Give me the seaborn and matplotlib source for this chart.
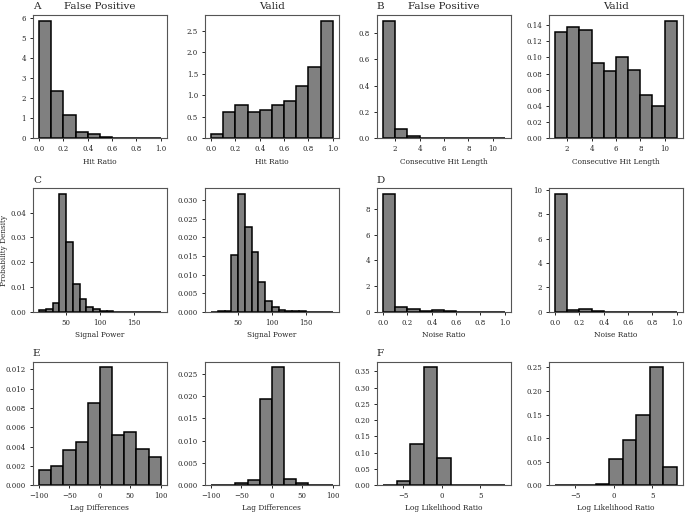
import numpy as np
import pandas as pd
import matplotlib
matplotlib.use("Agg")
import matplotlib.pyplot as plt
import seaborn as sns

# bin edges per metric
hit_edges = np.linspace(0, 1, 11)
len_edges = np.arange(1, 12)
power_edges = np.arange(10, 200, 10)
noise_edges = np.linspace(0, 1, 11)
lag_edges = np.arange(-100, 101, 20)
llr_edges = np.linspace(-7.6, 8.2, 10)

# bar heights (probability density)
hit_fp = [5.85, 2.35, 1.18, 0.32, 0.20, 0.08, 0.02, 0.005, 0.003, 0.002]
hit_valid = [0.10, 0.62, 0.78, 0.61, 0.65, 0.77, 0.87, 1.21, 1.67, 2.73]

len_fp = [0.89, 0.075, 0.022, 0.007, 0.004, 0.001, 0.0005, 0.0003, 0.0002, 0.0001]
len_valid = [0.131, 0.137, 0.134, 0.093, 0.083, 0.100, 0.084, 0.054, 0.040, 0.145]

power_fp = [0.0007, 0.0011, 0.0035, 0.0475, 0.0283, 0.0112, 0.0052, 0.0021, 0.0012,
            0.0003, 0.0002, 0.0001, 0.0001, 0.00005, 0.00003, 0.00002, 0.0, 0.0]
power_valid = [0.00005, 0.0001, 0.0003, 0.0153, 0.0316, 0.0229, 0.0161, 0.0079, 0.0030,
               0.0012, 0.0006, 0.0003, 0.0002, 0.0001, 0.00005, 0.0, 0.0, 0.0]

noise_fp = [9.15, 0.35, 0.20, 0.08, 0.13, 0.07, 0.01, 0.005, 0.003, 0.002]
noise_valid = [9.65, 0.12, 0.20, 0.05, 0.01, 0.003, 0.002, 0.001, 0.001, 0.001]

lag_fp = [0.0016, 0.0020, 0.0036, 0.0045, 0.0085, 0.0122, 0.0052, 0.0055, 0.0037, 0.0029]
lag_valid = [0.00005, 0.0001, 0.0005, 0.0012, 0.0193, 0.0264, 0.0013, 0.0005, 0.0001, 0.00005]

llr_fp = [0.0005, 0.014, 0.128, 0.362, 0.083, 0.0, 0.0, 0.0, 0.0]
llr_valid = [0.0003, 0.0003, 0.0003, 0.002, 0.055, 0.095, 0.150, 0.250, 0.038]

panels = [
    ("A", "Hit Ratio", hit_edges, hit_fp, hit_valid),
    ("B", "Consecutive Hit Length", len_edges, len_fp, len_valid),
    ("C", "Signal Power", power_edges, power_fp, power_valid),
    ("D", "Noise Ratio", noise_edges, noise_fp, noise_valid),
    ("E", "Lag Differences", lag_edges, lag_fp, lag_valid),
    ("F", "Log Likelihood Ratio", llr_edges, llr_fp, llr_valid),
]

sns.set_style("ticks")
plt.rcParams["font.family"] = ["DejaVu Serif"]
plt.rcParams["font.size"] = 5

fig, axes = plt.subplots(3, 4, figsize=(6.85, 5.15), dpi=100)
fig.subplots_adjust(left=0.048, right=0.997, top=0.971, bottom=0.058,
                    wspace=0.284, hspace=0.403)

for i, (letter, xlabel, edges, fp, valid) in enumerate(panels):
    row, col = divmod(i, 2)
    centers = (edges[:-1] + edges[1:]) / 2
    for j, (vals, name) in enumerate([(fp, "False Positive"), (valid, "Valid")]):
        ax = axes[row, col * 2 + j]
        df = pd.DataFrame({"x": centers, "w": vals})
        sns.histplot(data=df, x="x", weights="w", bins=list(edges), stat="count",
                     color="#808080", edgecolor="black", linewidth=1.1,
                     alpha=1, ax=ax)
        ax.set_xlabel(xlabel, fontsize=5.3, labelpad=3)
        ax.set_ylabel("")
        ax.tick_params(labelsize=5, length=2.5, width=0.7, pad=2.5)
        for s in ax.spines.values():
            s.set_color("#555555")
            s.set_linewidth(0.8)
        if row == 0:
            ax.set_title(name, fontsize=7.5, pad=4)
        if j == 0:
            ax.set_title(letter, loc="left", fontsize=7.5, pad=4)

axes[1, 0].set_ylabel("Probability Density", fontsize=5.3, labelpad=1.5)

plt.savefig("out.png", dpi=100)
